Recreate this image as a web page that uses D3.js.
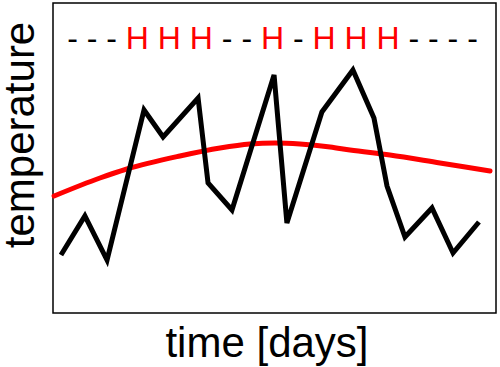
<!DOCTYPE html>
<html>
<head>
<meta charset="utf-8">
<script src="https://cdn.jsdelivr.net/npm/d3@7/dist/d3.min.js"></script>
<style>
  html, body { margin: 0; padding: 0; background: #fff; }
  svg { display: block; }
  text { font-family: "Liberation Sans", Arial, sans-serif; }
</style>
</head>
<body>
<svg id="chart" width="500" height="367"></svg>
<script>
// Observed daily temperature (irregular sampling times)
const days  = [0.36, 1.44, 2.44, 4.11, 4.97, 6.55, 7.00, 8.08, 9.98, 10.56, 12.14, 13.54, 14.49, 15.08, 15.89, 17.11, 18.06, 19.23];
const temps = [5.8, 9.7, 5.3, 20.3, 17.6, 21.5, 13.0, 10.3, 23.8, 9.0, 20.1, 24.3, 19.5, 12.7, 7.6, 10.5, 6.0, 9.1];

// Smooth trend curve
const trendDays  = [0.05, 2.12, 3.34, 5.73, 7.54, 8.89, 10.02, 11.15, 12.51, 13.41, 15.21, 17.47, 19.73];
const trendTemps = [11.7, 13.5, 14.4, 15.7, 16.5, 16.9, 17.0, 16.9, 16.6, 16.3, 15.8, 15.0, 14.2];

// State sequence shown on top
const states = ["-","-","-","H","H","H","-","-","H","-","H","H","H","-","-","-","-"];

const xDomain = [0, 20];
const yDomain = [0, 31];

const svg = d3.select("#chart");
const mLeft = 53, mRight = 496, mTop = 3, mBottom = 313;

const x = d3.scaleLinear().domain(xDomain).range([mLeft, mRight]);
const y = d3.scaleLinear().domain(yDomain).range([mBottom, mTop]);

// frame
svg.append("rect")
  .attr("x", mLeft).attr("y", mTop)
  .attr("width", mRight - mLeft).attr("height", mBottom - mTop)
  .attr("fill", "none").attr("stroke", "#000").attr("stroke-width", 1.5);

// trend curve
const trend = trendDays.map((d, i) => [d, trendTemps[i]]);
svg.append("path")
  .datum(trend)
  .attr("fill", "none")
  .attr("stroke", "#ff0000")
  .attr("stroke-width", 5)
  .attr("stroke-linecap", "round")
  .attr("d", d3.line().x(d => x(d[0])).y(d => y(d[1])).curve(d3.curveMonotoneX));

// observed series
const obs = days.map((d, i) => [d, temps[i]]);
svg.append("path")
  .datum(obs)
  .attr("fill", "none")
  .attr("stroke", "#000")
  .attr("stroke-width", 5)
  .attr("stroke-linejoin", "miter")
  .attr("d", d3.line().x(d => x(d[0])).y(d => y(d[1])));

// state string
const st = svg.append("text")
  .attr("x", (mLeft + mRight) / 2 - 2)
  .attr("y", 49)
  .attr("text-anchor", "middle")
  .attr("font-size", 32);
states.forEach((s, i) => {
  st.append("tspan")
    .attr("fill", s === "H" ? "#ff0000" : "#000")
    .text((i > 0 ? " " : "") + s);
});

// axis labels
svg.append("text")
  .attr("x", 267).attr("y", 357)
  .attr("text-anchor", "middle")
  .attr("font-size", 42)
  .text("time [days]");

svg.append("text")
  .attr("transform", "translate(34,135) rotate(-90)")
  .attr("text-anchor", "middle")
  .attr("font-size", 42)
  .text("temperature");
</script>
</body>
</html>
